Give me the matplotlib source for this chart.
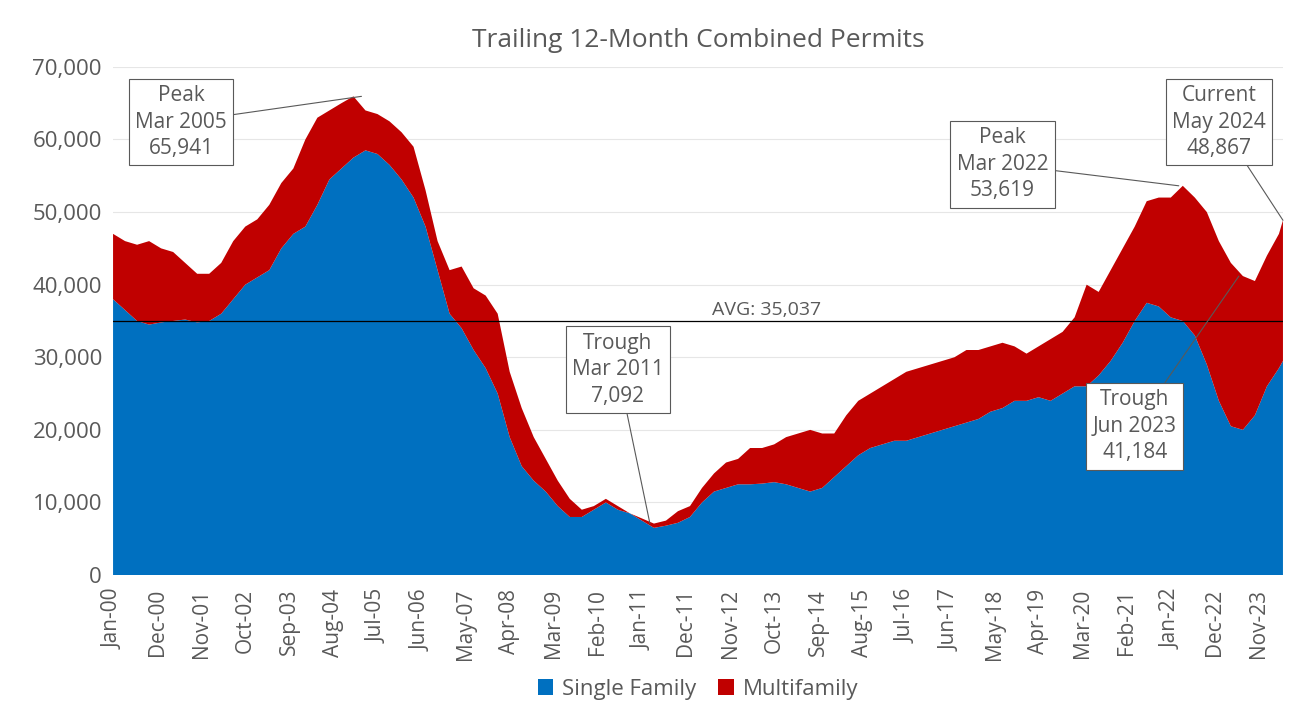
import matplotlib.pyplot as plt
import numpy as np

# quarterly samples (Jan, Apr, Jul, Oct) from Jan-00, last point May-24
months = list(range(0, 292, 3)) + [292]
single_family = [
    38000, 36500, 35000, 34500,
    34800, 35000, 35200, 34800,
    35000, 36000, 38000, 40000,
    41000, 42000, 45000, 47000,
    48000, 51000, 54500, 56000,
    57500, 58500, 58000, 56500,
    54500, 52000, 48000, 42000,
    36000, 34000, 31000, 28500,
    25000, 19000, 15000, 13000,
    11500, 9500, 8000, 8000,
    9000, 10000, 9000, 8500,
    7500, 6500, 6800, 7200,
    8000, 10000, 11500, 12000,
    12500, 12500, 12600, 12800,
    12500, 12000, 11500, 12000,
    13500, 15000, 16500, 17500,
    18000, 18500, 18500, 19000,
    19500, 20000, 20500, 21000,
    21500, 22500, 23000, 24000,
    24000, 24500, 24000, 25000,
    26000, 26000, 27500, 29500,
    32000, 35000, 37500, 37000,
    35500, 35000, 33000, 29000,
    24000, 20500, 20000, 22000,
    26000, 28500, 29500,
]
combined = [
    47000, 46000, 45500, 46000,
    45000, 44500, 43000, 41500,
    41500, 43000, 46000, 48000,
    49000, 51000, 54000, 56000,
    60000, 63000, 64000, 65000,
    65941, 64000, 63500, 62500,
    61000, 59000, 53000, 46000,
    42000, 42500, 39500, 38500,
    36000, 28000, 23000, 19000,
    16000, 13000, 10500, 9000,
    9500, 10500, 9500, 8500,
    7800, 7092, 7500, 8800,
    9500, 12000, 14000, 15500,
    16000, 17500, 17500, 18000,
    19000, 19500, 20000, 19500,
    19500, 22000, 24000, 25000,
    26000, 27000, 28000, 28500,
    29000, 29500, 30000, 31000,
    31000, 31500, 32000, 31500,
    30500, 31500, 32500, 33500,
    35500, 40000, 39000, 42000,
    45000, 48000, 51500, 52000,
    52000, 53619, 52000, 50000,
    46000, 43000, 41184, 40500,
    44000, 47000, 48867,
]
multifamily = [c - s for c, s in zip(combined, single_family)]
avg = 35037

mon_names = ['Jan', 'Feb', 'Mar', 'Apr', 'May', 'Jun', 'Jul', 'Aug', 'Sep', 'Oct', 'Nov', 'Dec']
tick_pos = list(range(0, 293, 11))
tick_labels = [f"{mon_names[i % 12]}-{(i // 12) % 100:02d}" for i in tick_pos]

gray = '#595959'
plt.rcParams['font.family'] = ['Open Sans', 'DejaVu Sans']

fig = plt.figure(figsize=(12.92, 7.27), dpi=100)
ax = fig.add_axes([0.0875, 0.209, 0.9055, 0.699])
ax.stackplot(months, single_family, multifamily, colors=['#0070C0', '#C00000'],
             labels=['Single Family', 'Multifamily'])
ax.axhline(avg, color='black', lw=0.9)
ax.text(163, avg + 300, 'AVG: 35,037', ha='center', va='bottom', fontsize=14, color=gray)

ax.set_xlim(0, 292)
ax.set_ylim(0, 70000)
ax.set_yticks(range(0, 70001, 10000))
ax.set_yticklabels([f"{v:,}" for v in range(0, 70001, 10000)], fontsize=16, color=gray)
ax.set_xticks(tick_pos)
ax.set_xticklabels(tick_labels, rotation=90, fontsize=15, color=gray)
ax.grid(axis='y', color='#e6e6e6', lw=0.8)
ax.set_axisbelow(True)
for s in ax.spines.values():
    s.set_visible(False)
ax.tick_params(length=0)
ax.tick_params(axis='x', pad=10)
ax.tick_params(axis='y', pad=8)
ax.set_title('Trailing 12-Month Combined Permits', fontsize=19, color=gray, pad=14)

box = dict(boxstyle='square,pad=0.3', fc='white', ec=gray, lw=0.8)
arrow = dict(arrowstyle='-', color=gray, lw=0.8, shrinkA=0, shrinkB=0)
notes = [
    ('Peak\nMar 2005\n65,941', (62, 65941), (17, 62400)),
    ('Trough\nMar 2011\n7,092', (134, 7092), (126, 28300)),
    ('Peak\nMar 2022\n53,619', (266, 53619), (222, 56600)),
    ('Current\nMay 2024\n48,867', (292, 48867), (276, 62400)),
    ('Trough\nJun 2023\n41,184', (281, 41184), (255, 20500)),
]
for txt, xy, xytext in notes:
    ax.annotate(txt, xy=xy, xytext=xytext, ha='center', va='center', fontsize=15,
                color=gray, bbox=box, arrowprops=arrow, linespacing=1.35)

ax.legend(loc='upper center', bbox_to_anchor=(0.5, -0.165), ncol=2, frameon=False,
          fontsize=16, labelcolor=gray, handlelength=0.7, handleheight=0.7,
          columnspacing=1.0, handletextpad=0.4)
fig.savefig('out.png')
